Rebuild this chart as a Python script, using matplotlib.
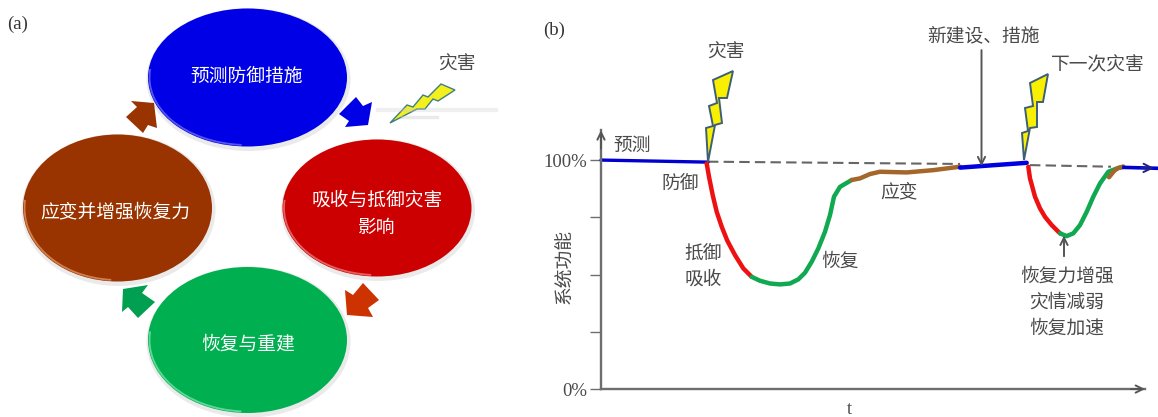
import matplotlib
matplotlib.use('Agg')
import matplotlib.pyplot as plt
from matplotlib.patches import Ellipse, Arc, Polygon

plt.rcParams['font.family'] = ['Noto Sans CJK SC', 'DejaVu Sans']

W, H = 1158, 417
TEXT = '#4a4a4a'
AXIS = '#6e6e6e'

# 系统功能曲线 (t, %)
blue1_t = [0, 107]
blue1_y = [100, 99.1]
red1_t = [105.7, 108, 111.7, 115.7, 120.7, 126.3, 134, 142.3, 150.7]
red1_y = [98.5, 92.7, 84.7, 77.4, 70.9, 64.8, 58.5, 52.7, 49.0]
green1_t = [150.7, 159, 169, 179, 189, 197.3, 204, 210.7, 217.3, 224, 229, 233, 239, 250.7]
green1_y = [49.0, 47.3, 46.1, 45.7, 46.1, 47.9, 50.8, 55.6, 61.4, 68.7, 76.0, 84.0, 88.3, 91.3]
brown1_t = [250.7, 259, 269, 279, 305.7, 332.3, 359]
brown1_y = [91.3, 92.0, 93.9, 94.9, 94.6, 95.6, 97.1]
blue2_t = [359, 381, 425.7]
blue2_y = [96.7, 97.4, 98.8]
red2_t = [427.3, 429, 434, 439, 444, 450.7, 459]
red2_y = [97.1, 92, 84, 78.9, 75.2, 71.6, 68.0]
green2_t = [459, 465.7, 472.3, 479, 485.7, 492.3, 499, 507.3, 515.7, 522.3]
green2_y = [68, 66.8, 68, 71.6, 77.4, 84, 89.8, 94.9, 96.3, 97.1]
brown2_t = [508, 513, 517.3, 522.3]
brown2_y = [92.5, 95.2, 96.6, 97.1]
blue3_t = [523, 557]
blue3_y = [96.8, 96.4]
dash1_t = [107, 359]
dash1_y = [99.3, 98.3]
dash2_t = [429, 510]
dash2_y = [97.8, 97.1]

y_ticks = [0, 25, 50, 75, 100]
y_tick_labels = ['0%', '', '', '', '100%']

# (a) 四个环节
a_labels = ['预测防御措施', '吸收与抵御灾害\n影响', '恢复与重建', '应变并增强恢复力']
a_colors = ['#0000e6', '#cc0000', '#00b050', '#993300']
a_rims = ['#7a7af0', '#f08a8a', '#8ae8b8', '#e8a070']

fig = plt.figure(figsize=(W / 100, H / 100), dpi=100)

# (b) 曲线
ax = fig.add_axes([540 / W, 0, 618 / W, 1])
ax.set_xlim(-61, 557)
ax.set_ylim(-12.2, 169.9)
ax.patch.set_alpha(0)
for s in ['top', 'right']:
    ax.spines[s].set_visible(False)
ax.spines['left'].set_position(('data', 0))
ax.spines['bottom'].set_position(('data', 0))
ax.spines['left'].set_bounds(0, 113)
ax.spines['bottom'].set_bounds(0, 544)
ax.spines['left'].set_color(AXIS)
ax.spines['bottom'].set_color(AXIS)
ax.spines['left'].set_linewidth(1.7)
ax.spines['bottom'].set_linewidth(1.7)
ax.set_xticks([])
ax.set_yticks(y_ticks)
ax.set_yticklabels(y_tick_labels, family='Liberation Serif', fontsize=13.5, color=TEXT)
ax.tick_params(axis='y', length=8, width=1, color=AXIS, pad=2)
ax.set_xlabel('t', family='Liberation Serif', fontsize=13.5, color=TEXT, va='center')
ax.xaxis.set_label_coords((849 - 540) / 618, (H - 410) / H)
ax.set_ylabel('系统功能', fontsize=13.5, color=TEXT, va='center')
ax.yaxis.set_label_coords((565 - 540) / 618, (H - 267) / H)

ax.plot(dash1_t, dash1_y, color='#666666', lw=1.5, ls=(0, (5, 2.5)))
ax.plot(dash2_t, dash2_y, color='#666666', lw=1.5, ls=(0, (5, 2.5)))
ax.plot(blue1_t, blue1_y, color='#0000d0', lw=2.4, solid_capstyle='round')
ax.plot(red1_t, red1_y, color='#ee1111', lw=3.2, solid_capstyle='round')
ax.plot(green1_t, green1_y, color='#10a850', lw=3.2, solid_capstyle='round')
ax.plot(brown1_t, brown1_y, color='#a5662c', lw=3.2, solid_capstyle='round')
ax.plot(blue2_t, blue2_y, color='#0000e0', lw=3.2, solid_capstyle='round')
ax.plot(red2_t, red2_y, color='#ee1111', lw=3.2, solid_capstyle='round')
ax.plot(green2_t, green2_y, color='#10a850', lw=3.2, solid_capstyle='round')
ax.plot(brown2_t, brown2_y, color='#a5662c', lw=3.2, solid_capstyle='round')
ax.plot(blue3_t, blue3_y, color='#0000d0', lw=2.6, clip_on=False)

arrow = dict(arrowstyle='->', color='#555555', lw=1.4, shrinkA=0, shrinkB=0, mutation_scale=13)
ax.annotate('', xy=(0, 113), xytext=(0, 105), arrowprops=arrow)
ax.annotate('', xy=(544, 0), xytext=(530, 0), arrowprops=arrow)
ax.annotate('', xy=(380.5, 97.3), xytext=(380.5, 148), arrowprops=arrow)
ax.annotate('', xy=(463, 67), xytext=(463, 58), arrowprops=arrow)
ax.annotate('', xy=(553, 96.5), xytext=(540, 96.6),
            arrowprops=dict(arrowstyle='->', color='#20208a', lw=1.4, shrinkA=0, shrinkB=0, mutation_scale=15))

# 覆盖层: 像素坐标
ov = fig.add_axes([0, 0, 1, 1], zorder=-1)
ov.set_xlim(0, W)
ov.set_ylim(H, 0)
ov.axis('off')

top = fig.add_axes([0, 0, 1, 1], zorder=5)
top.set_xlim(0, W)
top.set_ylim(H, 0)
top.axis('off')

centers = [(247.5, 77.5), (377, 208), (247.5, 340), (117.5, 208)]
sizes = [(199, 138), (189, 137), (199, 146), (189, 147)]
for c, s, col, rim in zip(centers, sizes, a_colors, a_rims):
    ov.add_patch(Ellipse((c[0] + 1, c[1] + 2), s[0] + 5, s[1] + 5, color='#bbbbbb', alpha=0.3, lw=0))
    ov.add_patch(Ellipse(c, s[0], s[1], color=col, lw=0))
    ov.add_patch(Arc(c, s[0] - 3, s[1] - 3, theta1=95, theta2=185, color=rim, lw=1.3, alpha=0.7))

# 这里 y 轴朝下, 所以 theta 顺时针; 上面的 Arc 画在左下方
arrow_blue = [(356, 97), (363, 106), (372, 102), (368, 125), (345, 127), (349, 121), (339, 114)]
arrow_red = [(363, 283), (379, 300), (368, 308), (373, 317), (347, 315), (345, 290), (353, 295)]
arrow_green = [(148, 285), (123, 289), (122, 312), (128, 307), (138, 318), (155, 302), (142, 293)]
arrow_brown = [(126, 117), (143, 133), (148, 125), (157, 128), (154, 103), (131, 101), (137, 107)]
for pts, col in zip([arrow_blue, arrow_red, arrow_green, arrow_brown],
                    ['#0000e6', '#cc3300', '#00a050', '#993300']):
    ov.add_patch(Polygon(pts, closed=True, color=col, lw=0))

# 闪电
ov.plot([378, 496], [110, 110], color='#cccccc', lw=3, alpha=0.3)
ov.plot([402, 437], [117, 117], color='#cccccc', lw=2.5, alpha=0.4)
bolt_a = [(390, 123), (407, 105), (413, 107), (423, 95), (428, 97), (441, 84), (455, 90),
          (438, 101), (433, 99), (425, 109), (417, 109)]
bolt_b1 = [(708, 162), (706, 128), (713, 126), (709, 106), (717, 103), (713, 80), (733, 71),
           (727, 98), (719, 98), (722, 123), (715, 125)]
bolt_b2 = [(1024, 160), (1022, 133), (1028, 131), (1025, 108), (1033, 106), (1030, 83), (1048, 74),
           (1043, 102), (1037, 102), (1037, 127), (1030, 128)]
ov.add_patch(Polygon(bolt_a, closed=True, fc='#f4f01e', ec='#3f7f80', lw=1))
top.add_patch(Polygon(bolt_b1, closed=True, fc='#f8f000', ec='#3d5f78', lw=1.4))
top.add_patch(Polygon(bolt_b2, closed=True, fc='#f8f000', ec='#3d5f78', lw=1.4))

# 文字
serif = dict(family='Liberation Serif', fontsize=13.5, color='#333333', ha='left', va='center')
top.text(7, 24, '(a)', **serif)
top.text(543, 30, '(b)', **serif)

text_pos = [(247, 76), (377, 214), (248, 344), (115, 212)]
for (x, y), lab in zip(text_pos, a_labels):
    top.text(x, y, lab, color='white', fontsize=13.5, ha='center', va='center', linespacing=1.4)

notes = [
    (457, 64, '灾害'), (726, 52, '灾害'), (632, 145, '预测'), (680, 183, '防御'),
    (703, 253, '抵御'), (703, 279, '吸收'), (840, 261, '恢复'), (899, 192, '应变'),
    (983, 36, '新建设、措施'), (1098, 65, '下一次灾害'), (1067, 276, '恢复力增强'),
    (1067, 302, '灾情减弱'), (1067, 328, '恢复加速'),
]
for x, y, s in notes:
    top.text(x, y, s, color=TEXT, fontsize=13.5, ha='center', va='center')

fig.savefig('out.png', dpi=100)
